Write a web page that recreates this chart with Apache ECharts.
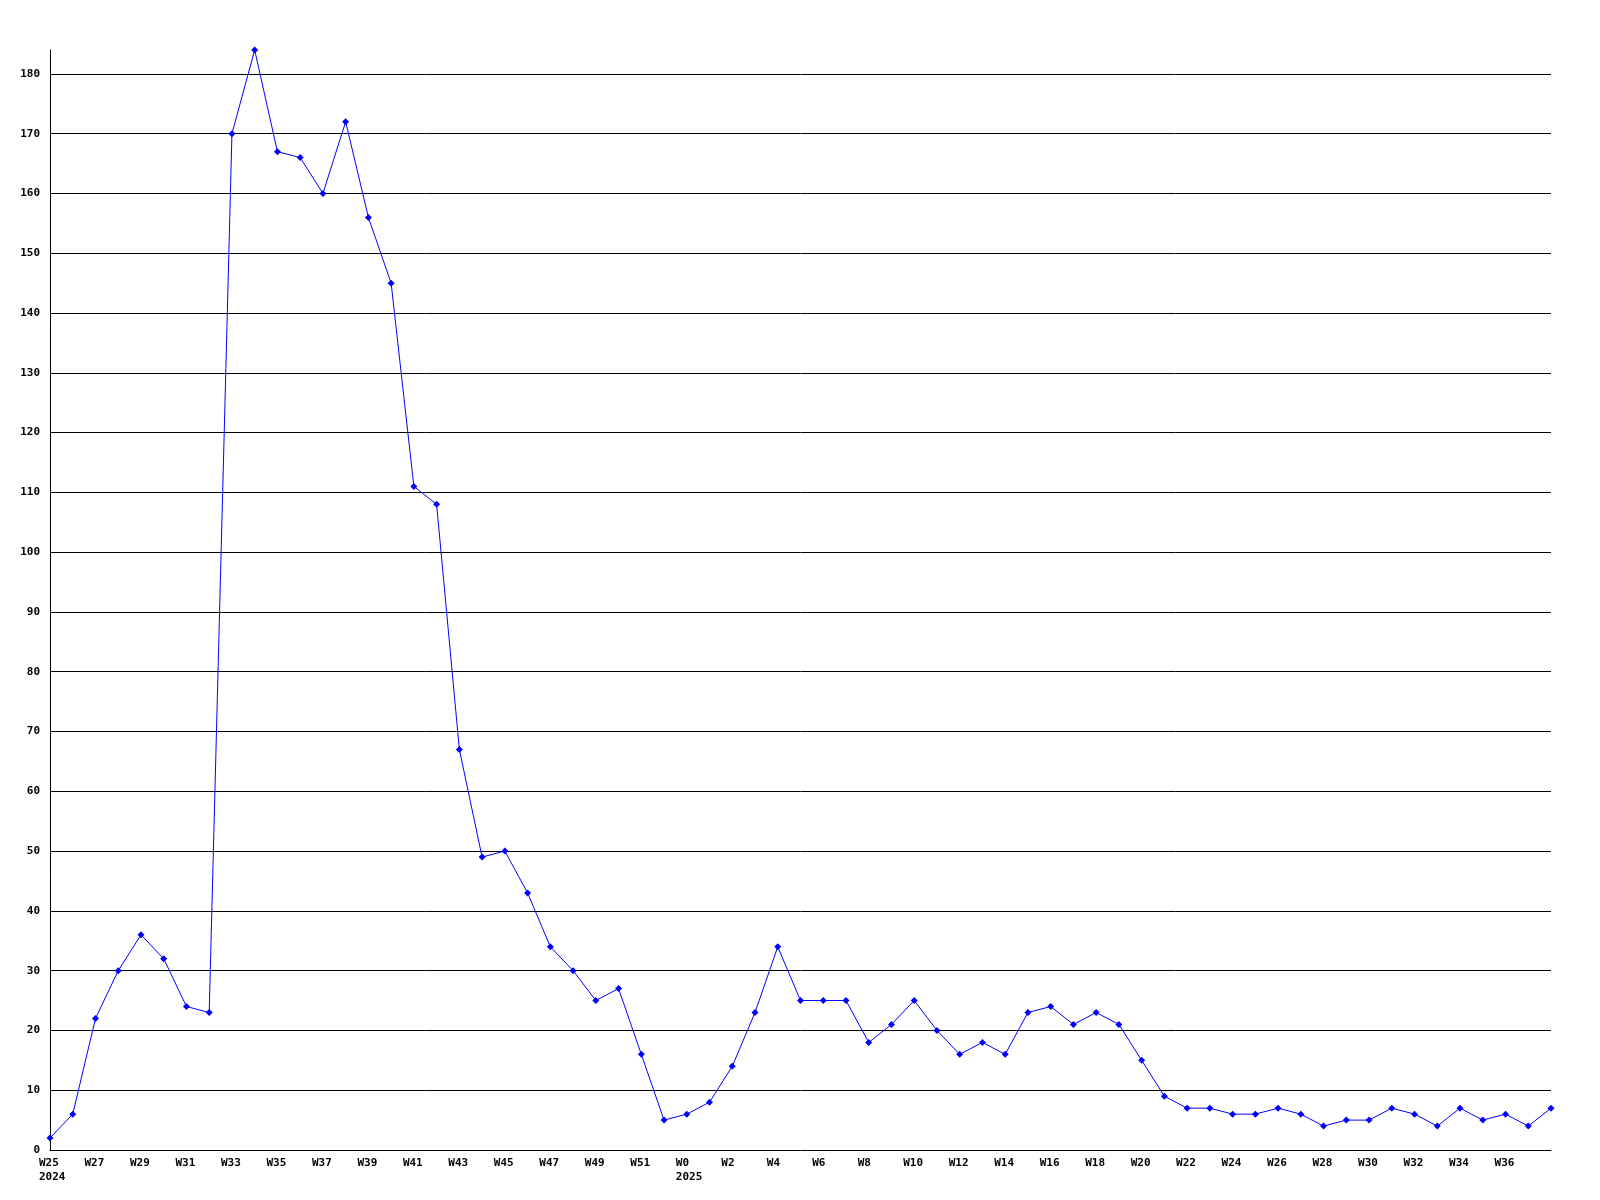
<!DOCTYPE html>
<html>
<head>
<meta charset="utf-8">
<script src="https://cdn.jsdelivr.net/npm/echarts@6/dist/echarts.min.js"></script>
<style>
    html, body { margin: 0; padding: 0; background: #fff; }
    #chart { width: 1600px; height: 1200px; }
</style>
</head>
<body>
<div id="chart"></div>
<script>
    // weeks shown on the x axis, 2024 W25 .. 2025 W38
    var weeks = ['W25','W26','W27','W28','W29','W30','W31','W32','W33','W34','W35','W36','W37','W38','W39','W40',
        'W41','W42','W43','W44','W45','W46','W47','W48','W49','W50','W51','W52',
        'W0','W1','W2','W3','W4','W5','W6','W7','W8','W9','W10','W11','W12','W13','W14','W15','W16','W17','W18',
        'W19','W20','W21','W22','W23','W24','W25','W26','W27','W28','W29','W30','W31','W32','W33','W34','W35',
        'W36','W37','W38'];
    // year shown under the first week of each year (index -> year)
    var yearStarts = { 0: '2024', 28: '2025' };
    var counts = [2,6,22,30,36,32,24,23,170,184,167,166,160,172,156,145,
        111,108,67,49,50,43,34,30,25,27,16,5,
        6,8,14,23,34,25,25,25,18,21,25,20,16,18,16,23,24,21,23,
        21,15,9,7,7,6,6,7,6,4,5,5,7,6,4,7,5,
        6,4,7];
    var yMax = 184;
    var yStep = 10;

    var chart = echarts.init(document.getElementById('chart'));
    var fontFam = '"DejaVu Sans Mono", monospace';
    var option = {
        animation: false,
        backgroundColor: '#fff',
        grid: {
            left: 50,
            right: 49,
            top: 50,
            bottom: 50,
            containLabel: false
        },
        xAxis: {
            type: 'category',
            boundaryGap: false,
            data: weeks,
            axisLine: { show: true, lineStyle: { color: '#000', width: 1 } },
            axisTick: { show: false },
            splitLine: { show: false },
            axisLabel: {
                interval: 1,
                align: 'left',
                padding: [0, 0, 0, -11],
                margin: 6,
                lineHeight: 14,
                color: '#000',
                fontFamily: fontFam,
                fontWeight: 'bold',
                fontSize: 11,
                formatter: function (val, idx) {
                    if (idx === weeks.length - 1) return '';
                    return yearStarts[idx] ? val + '\n' + yearStarts[idx] : val;
                }
            }
        },
        yAxis: {
            type: 'value',
            min: 0,
            max: yMax,
            interval: yStep,
            axisLine: { show: true, lineStyle: { color: '#000', width: 1 } },
            axisTick: { show: false },
            splitLine: {
                show: true,
                showMinLine: false,
                showMaxLine: false,
                lineStyle: { color: '#000', width: 1 }
            },
            axisLabel: {
                showMaxLabel: false,
                margin: 10,
                color: '#000',
                fontFamily: fontFam,
                fontWeight: 'bold',
                fontSize: 11
            }
        },
        series: [{
            type: 'line',
            data: counts,
            symbol: 'diamond',
            symbolSize: 7,
            showAllSymbol: true,
            lineStyle: { color: '#0000ff', width: 1 },
            itemStyle: { color: '#0000ff' }
        }]
    };
    chart.setOption(option);
</script>
</body>
</html>
